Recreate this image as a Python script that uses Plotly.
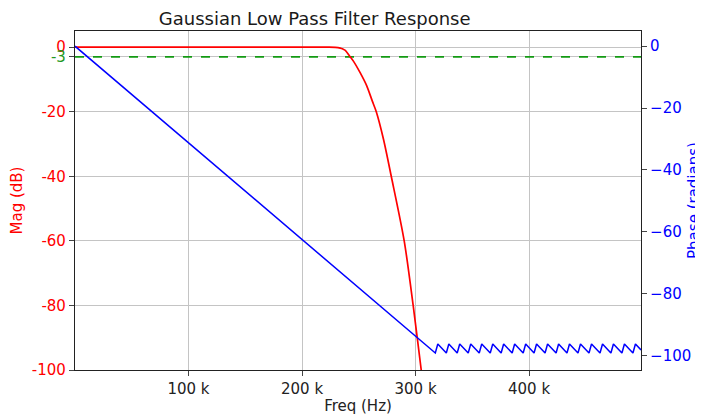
import plotly.graph_objects as go

# ---- data ----
mag_freq_hz = [0, 100000, 200000, 222000, 229300, 233700, 236000, 238100, 242000, 245400,
               251300, 257000, 262000, 265400, 271800, 278600, 290000, 297900, 305000, 311000]
mag_db = [0, 0, 0, 0, -0.05, -0.3, -0.6, -1.0, -2.8, -4.4,
          -8.0, -12.0, -16.8, -20.0, -28.6, -40.0, -60.0, -80.0, -100.0, -117.0]

phase_freq_hz = [0, 317400, 319600, 327100, 329300, 336700, 338900, 346400, 348600,
                 356100, 358300, 365800, 368000, 375400, 377600, 385100, 387300,
                 394800, 397000, 404400, 406600, 414100, 416300, 423800, 426000,
                 433400, 435600, 443100, 445300, 452800, 455000, 462500, 464700,
                 472100, 474300, 481800, 484000, 491500, 493700, 498600]
phase_rad = [0, -99.2, -96.3, -99.2, -96.3, -99.2, -96.3, -99.2, -96.3,
             -99.2, -96.3, -99.2, -96.3, -99.2, -96.3, -99.2, -96.3,
             -99.2, -96.3, -99.2, -96.3, -99.2, -96.3, -99.2, -96.3,
             -99.2, -96.3, -99.2, -96.3, -99.2, -96.3, -99.2, -96.3,
             -99.2, -96.3, -99.2, -96.3, -99.2, -96.3, -98.2]

cutoff_db = -3
freq_range_hz = [0, 498600]

x_tick_vals = [100000, 200000, 300000, 400000]
x_tick_text = ["100 k", "200 k", "300 k", "400 k"]
mag_tick_vals = [0, -3, -20, -40, -60, -80, -100]
mag_tick_text = ["0", "<span style='color:#1f9a1f'>-3</span>", "-20", "-40", "-60", "-80", "-100"]
phase_tick_vals = [0, -20, -40, -60, -80, -100]

FONT = "DejaVu Sans"
# the page body has an 8px default margin, so the figure is sized to fit inside the window
W, H = 695, 407

fig = go.Figure()
fig.add_trace(go.Scatter(x=freq_range_hz, y=[cutoff_db, cutoff_db], mode="lines",
                         line=dict(color="#139a13", width=1.6, dash="dash"),
                         yaxis="y", hoverinfo="skip"))
fig.add_trace(go.Scatter(x=mag_freq_hz, y=mag_db, mode="lines",
                         line=dict(color="#ff0000", width=1.7, shape="spline", smoothing=0.8),
                         yaxis="y", name="Mag"))
fig.add_trace(go.Scatter(x=phase_freq_hz, y=phase_rad, mode="lines",
                         line=dict(color="#0000ff", width=1.5), yaxis="y2", name="Phase"))

fig.update_layout(
    width=W, height=H,
    margin=dict(l=67, r=62, t=23, b=45, autoexpand=False),
    paper_bgcolor="white", plot_bgcolor="white",
    showlegend=False,
    font=dict(family=FONT, size=15, color="#222222"),
    title=dict(text="Gaussian Low Pass Filter Response", font=dict(size=18, color="#1a1a1a"),
               x=306.7 / W, xanchor="center", xref="container",
               y=1 - 11 / H, yanchor="middle"),
    xaxis=dict(range=freq_range_hz, tickvals=x_tick_vals, ticktext=x_tick_text,
               showgrid=True, gridcolor="#c4c4c4", gridwidth=1, automargin=False,
               showline=True, linecolor="#222222", linewidth=1.2, mirror=True,
               ticks="outside", ticklen=5, tickcolor="#444444", zeroline=False,
               tickfont=dict(size=15, color="#222222"),
               title=dict(text="Freq (Hz)", font=dict(size=15, color="#222222"), standoff=4)),
    yaxis=dict(range=[-100, 5], tickvals=mag_tick_vals, ticktext=mag_tick_text,
               showgrid=True, gridcolor="#c4c4c4", gridwidth=1, automargin=False,
               showline=True, linecolor="#222222", linewidth=1.2, mirror=False,
               ticks="outside", ticklen=5, tickcolor="#444444", zeroline=False,
               tickfont=dict(size=15, color="#ff0000"),
               title=dict(text="Mag (dB)", font=dict(size=15, color="#ff0000"), standoff=20)),
    yaxis2=dict(range=[-104.7, 4.9], tickvals=phase_tick_vals, overlaying="y", side="right",
                showgrid=False, showline=True, linecolor="#222222", linewidth=1.2, automargin=False,
                ticks="outside", ticklen=5, tickcolor="#444444", zeroline=False,
                tickfont=dict(size=15, color="#0000ff"),
                title=dict(text="Phase (radians)", font=dict(size=15, color="#0000ff"), standoff=12)),
)

fig.write_html("out.html")
